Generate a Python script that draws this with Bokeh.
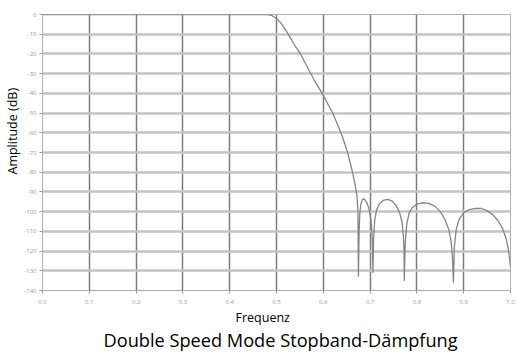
from bokeh.plotting import figure
from bokeh.models import Range1d, FixedTicker, Title, ColumnDataSource
from bokeh.embed import file_html
from bokeh.resources import INLINE

# ---- data ----
freq = [0.0, 0.1, 0.2, 0.3, 0.4, 0.46, 0.48, 0.49, 0.50, 0.51, 0.52, 0.53, 0.54, 0.55,
        0.56, 0.57, 0.58, 0.59, 0.60, 0.61, 0.62, 0.63, 0.64, 0.65, 0.66, 0.667,
        0.672, 0.674, 0.675,
        0.6765, 0.678, 0.680, 0.683, 0.686, 0.689, 0.693, 0.697, 0.700, 0.703, 0.705, 0.706,
        0.7075, 0.710, 0.714, 0.720, 0.728, 0.738, 0.748, 0.756, 0.763, 0.768, 0.771, 0.7725, 0.773,
        0.775, 0.778, 0.783, 0.790, 0.800, 0.812, 0.825, 0.838, 0.850, 0.860, 0.868, 0.873, 0.876, 0.878,
        0.880, 0.884, 0.890, 0.900, 0.912, 0.925, 0.938, 0.950, 0.962, 0.973, 0.983, 0.991, 0.996, 1.0]
amp_db = [0.0, 0.0, 0.0, 0.0, 0.0, 0.0, 0.0, -0.5, -2.0, -4.5, -8.0, -12.0, -16.0, -19.5,
          -24.0, -28.5, -33.0, -37.0, -41.0, -45.5, -50.0, -55.5, -61.5, -68.5, -77.5, -85.0,
          -92.0, -100.0, -133.0,
          -110.0, -101.0, -96.5, -94.0, -93.5, -94.0, -95.5, -98.0, -101.5, -107.0, -116.0, -131.0,
          -113.0, -104.0, -99.0, -96.0, -94.3, -93.8, -94.8, -97.0, -100.5, -105.0, -112.0, -120.0, -135.0,
          -116.0, -107.0, -101.0, -98.0, -96.2, -95.5, -95.8, -97.2, -100.0, -104.0, -109.0, -115.0, -123.0, -136.0,
          -118.0, -109.0, -104.0, -100.5, -99.0, -98.3, -98.4, -99.5, -101.5, -104.5, -108.5, -114.0, -120.0, -128.0]

x_ticks = [0.0, 0.1, 0.2, 0.3, 0.4, 0.5, 0.6, 0.7, 0.8, 0.9, 1.0]
x_tick_labels = ["0.0", "0.1", "0.2", "0.3", "0.4", "0.5", "0.6", "0.7", "0.8", "0.9", "1.0"]
y_ticks = [0, -10, -20, -30, -40, -50, -60, -70, -80, -90, -100, -110, -120, -130, -140]
y_tick_labels = ["0", "-10", "-20", "-30", "-40", "-50", "-60", "-70", "-80", "-90",
                 "-100", "-110", "-120", "-130", "-140"]

title_text = "Double Speed Mode Stopband-Dämpfung"
x_label = "Frequenz"
y_label = "Amplitude (dB)"

p = figure(width=517, height=355, output_backend="svg", toolbar_location=None,
           x_range=Range1d(0, 1), y_range=Range1d(-140, 0),
           min_border_left=42, min_border_right=7, min_border_top=14, min_border_bottom=65)
p.background_fill_color = "white"
p.border_fill_color = "white"
p.outline_line_color = "#b0b0b0"
p.outline_line_width = 1

# grid
p.xgrid.ticker = FixedTicker(ticks=x_ticks)
p.ygrid.ticker = FixedTicker(ticks=y_ticks)
p.xgrid.grid_line_color = "#7c7c7c"
p.xgrid.grid_line_width = 1.5
p.ygrid.grid_line_color = "#c4c4c4"
p.ygrid.grid_line_width = 2.5

for ax, ticks, labels in ((p.xaxis[0], x_ticks, x_tick_labels), (p.yaxis[0], y_ticks, y_tick_labels)):
    ax.ticker = FixedTicker(ticks=ticks)
    ax.major_label_overrides = {t: l for t, l in zip(ticks, labels)}
    ax.minor_tick_line_color = None
    ax.major_tick_in = 0
    ax.major_tick_out = 3
    ax.major_tick_line_color = "#999999"
    ax.axis_line_color = None
    ax.major_label_text_font = "Open Sans"
    ax.major_label_text_font_size = "6px"
    ax.major_label_text_color = "#9a9a9a"
p.xaxis.major_label_standoff = 6
p.yaxis.major_label_standoff = 3

src = ColumnDataSource(data=dict(f=freq, a=amp_db))
p.line("f", "a", source=src, line_color="#858585", line_width=1.3)

# axis titles and chart title as Title panels (not clipped to the frame)
p.add_layout(Title(text=y_label, align="left", offset=116, standoff=1,
                   text_font="Open Sans", text_font_size="12.5px",
                   text_font_style="normal", text_color="black"), "left")
p.add_layout(Title(text=x_label, align="left", offset=193, standoff=0,
                   text_font="Open Sans", text_font_size="12.5px",
                   text_font_style="normal", text_color="black"), "below")
p.add_layout(Title(text=title_text, align="left", offset=61, standoff=0,
                   text_font="Open Sans", text_font_size="18.2px",
                   text_font_style="normal", text_color="black"), "below")

open("out.html", "w").write(file_html(p, INLINE))
